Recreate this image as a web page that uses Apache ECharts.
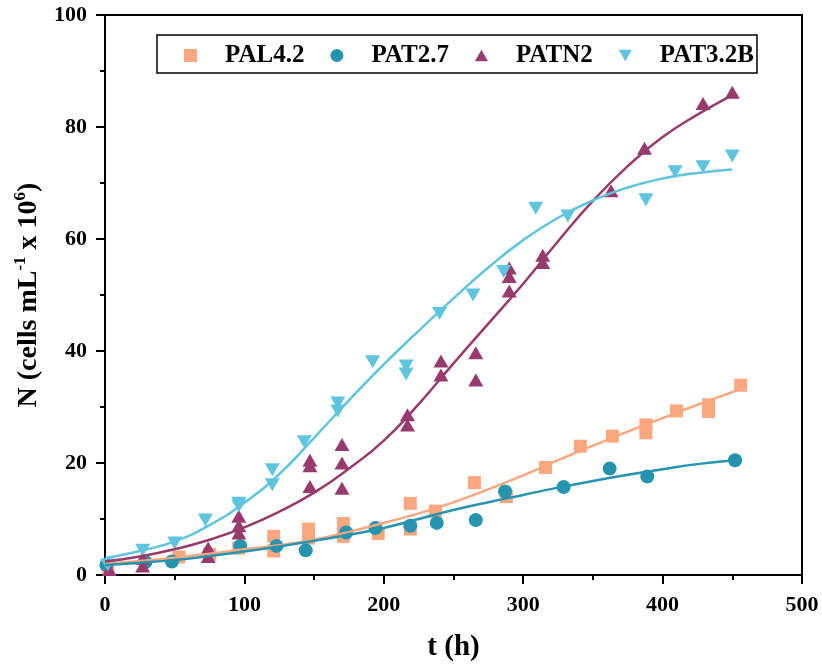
<!DOCTYPE html>
<html>
<head>
<meta charset="utf-8">
<script src="https://cdn.jsdelivr.net/npm/echarts@6/dist/echarts.min.js"></script>
<style>
html,body{margin:0;padding:0;background:#fff;}
#chart{width:822px;height:667px;}
</style>
</head>
<body>
<div id="chart"></div>
<script>
// ---- Data (t in h, N in cells mL^-1 x 10^6) ----
var seriesNames = ['PAL4.2', 'PAT2.7', 'PATN2', 'PAT3.2B'];
var xTicks = [0, 100, 200, 300, 400, 500];
var yTicks = [0, 20, 40, 60, 80, 100];

var pal42Points = [[2,1.6],[53,3.2],[75,3.7],[96,4.8],[121,6.9],[121,4.3],[146,8.2],[146,6.6],[171,9.2],[171,6.9],[196,7.4],[219,12.8],[219,8.2],[237,11.4],[265,16.5],[288,14.0],[316,19.2],[341,23.0],[364,24.8],[388,26.8],[388,25.4],[410,29.3],[433,30.4],[433,29.2],[456,33.9]];
var pat27Points = [[1,1.8],[29,2.3],[48,2.4],[97,5.2],[123,5.2],[144,4.4],[173,7.6],[194,8.4],[219,8.8],[238,9.3],[266,9.8],[287,14.9],[329,15.7],[362,19.0],[389,17.6],[452,20.5]];
var patn2Points = [[3,1.0],[27,1.6],[27,3.0],[74,4.8],[74,3.3],[96,10.5],[96,8.8],[96,7.5],[147,20.5],[147,19.5],[147,15.8],[170,23.3],[170,20.0],[170,15.5],[217,28.6],[217,26.8],[241,38.2],[241,35.7],[266,39.7],[266,34.8],[290,54.8],[290,53.3],[290,50.7],[314,57.1],[314,55.8],[363,68.6],[387,76.2],[429,84.2],[450,86.2]];
var pat32bPoints = [[2,1.8],[27,4.4],[50,5.7],[72,9.8],[96,12.8],[96,12.3],[120,18.8],[120,16.1],[143,23.8],[167,30.7],[167,29.3],[192,38.1],[216,37.3],[216,35.9],[240,46.7],[264,50.0],[286,54.2],[309,65.5],[332,64.1],[388,67.0],[409,72.0],[429,72.9],[450,74.8]];

// fitted curves
var pal42Fit = [[0,2.0],[25,2.5],[50,3.1],[75,3.8],[100,4.6],[125,5.3],[150,6.3],[175,7.7],[200,9.3],[225,11.0],[250,13.0],[275,15.3],[300,17.8],[325,20.5],[350,23.1],[375,25.6],[400,28.0],[425,30.4],[456,33.2]];
var pat27Fit = [[0,1.8],[25,2.2],[50,2.7],[75,3.4],[100,4.2],[125,5.1],[150,6.1],[175,7.2],[200,8.4],[225,10.0],[250,11.6],[275,13.0],[300,14.3],[325,15.6],[350,16.8],[375,17.9],[400,18.9],[425,19.8],[452,20.5]];
var patn2Fit = [[0,2.4],[25,3.3],[50,4.6],[75,6.3],[100,8.5],[125,11.3],[150,14.7],[175,19.0],[200,24.0],[225,30.5],[250,37.8],[275,44.9],[300,52.0],[325,59.6],[350,66.8],[375,73.0],[400,78.2],[425,82.2],[450,85.7]];
var pat32bFit = [[0,3.0],[25,4.3],[50,6.0],[75,8.9],[100,12.9],[125,18.0],[150,24.5],[175,31.2],[200,37.6],[225,43.6],[250,49.4],[275,54.9],[300,59.8],[325,63.8],[350,66.9],[375,69.2],[400,70.8],[425,71.8],[450,72.4]];

var colors = ['#FCA77F', '#2694AF', '#993A6C', '#5FC4DE'];
var FONT = 'Liberation Serif';

var sqPath = 'path://M0,0H10V10H0Z';
var upTri = 'path://M5,0L10,8.66L0,8.66Z';
var downTri = 'path://M0,0L10,0L5,8.66Z';

var chart = echarts.init(document.getElementById('chart'), null, {renderer: 'canvas'});

function scatter(name, data, color, symbol, size) {
  return {
    name: name, type: 'scatter', data: data, symbol: symbol, symbolSize: size,
    itemStyle: {color: color, opacity: 1}, z: 2, silent: true
  };
}
function fit(name, data, color) {
  return {
    name: name, type: 'line', data: data, smooth: 0.5, showSymbol: false, symbol: 'none',
    lineStyle: {color: color, width: 2.5}, itemStyle: {color: color}, z: 5, silent: true
  };
}

var option = {
  animation: false,
  backgroundColor: '#fff',
  grid: {left: 105, right: 20, top: 15, bottom: 92, show: true, borderColor: '#000', borderWidth: 2, backgroundColor: 'transparent'},
  legend: {
    left: 157, top: 35,
    data: [
      {name: seriesNames[0], icon: sqPath},
      {name: seriesNames[1], icon: 'circle'},
      {name: seriesNames[2], icon: upTri},
      {name: seriesNames[3], icon: downTri}
    ],
    itemWidth: 13, itemHeight: 13, itemGap: 26,
    padding: [8, 3, 5, 27],
    borderColor: '#000', borderWidth: 1.5,
    symbolKeepAspect: true,
    textStyle: {fontFamily: FONT, fontWeight: 'bold', fontSize: 25, color: '#000', padding: [0, 0, 0, 23]}
  },
  xAxis: {
    type: 'value', min: xTicks[0], max: xTicks[xTicks.length - 1], interval: 100,
    name: 't (h)', nameLocation: 'middle', nameGap: 58,
    nameTextStyle: {fontFamily: FONT, fontWeight: 'bold', fontSize: 29, color: '#000'},
    axisLine: {show: true, lineStyle: {color: '#000', width: 2}},
    axisTick: {show: true, inside: false, length: 9, lineStyle: {color: '#000', width: 2}},
    minorTick: {show: true, splitNumber: 2, length: 5, lineStyle: {color: '#000', width: 2}},
    splitLine: {show: false},
    axisLabel: {margin: 19, fontFamily: FONT, fontWeight: 'bold', fontSize: 22, color: '#000'}
  },
  yAxis: {
    type: 'value', min: yTicks[0], max: yTicks[yTicks.length - 1], interval: 20,
    name: '{b|N (cells mL}{s|-1}{b| x 10}{s|6}{b|)}', nameLocation: 'middle', nameGap: 62, nameRotate: 90,
    nameTextStyle: {
      fontFamily: FONT, fontWeight: 'bold', fontSize: 28, color: '#000',
      rich: {
        b: {fontFamily: FONT, fontWeight: 'bold', fontSize: 28, color: '#000', lineHeight: 31, verticalAlign: 'bottom'},
        s: {fontFamily: FONT, fontWeight: 'bold', fontSize: 17, color: '#000', verticalAlign: 'top'}
      }
    },
    axisLine: {show: true, lineStyle: {color: '#000', width: 2}},
    axisTick: {show: true, inside: false, length: 9, lineStyle: {color: '#000', width: 2}},
    minorTick: {show: true, splitNumber: 2, length: 5, lineStyle: {color: '#000', width: 2}},
    splitLine: {show: false},
    axisLabel: {margin: 18, fontFamily: FONT, fontWeight: 'bold', fontSize: 22, color: '#000'}
  },
  series: [
    scatter(seriesNames[0], pal42Points, colors[0], 'rect', 13),
    scatter(seriesNames[1], pat27Points, colors[1], 'circle', 14),
    scatter(seriesNames[2], patn2Points, colors[2], upTri, [15, 13]),
    scatter(seriesNames[3], pat32bPoints, colors[3], downTri, [15, 13]),
    fit('fit ' + seriesNames[0], pal42Fit, colors[0]),
    fit('fit ' + seriesNames[1], pat27Fit, colors[1]),
    fit('fit ' + seriesNames[2], patn2Fit, colors[2]),
    fit('fit ' + seriesNames[3], pat32bFit, colors[3])
  ]
};
chart.setOption(option);
</script>
</body>
</html>
